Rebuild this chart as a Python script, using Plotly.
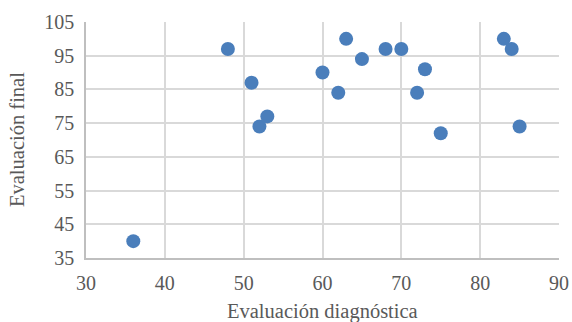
import plotly.graph_objects as go

diagnostica = [36, 48, 51, 52, 53, 60, 62, 63, 65, 68, 70, 72, 73, 75, 83, 84, 85]
final = [40, 97, 87, 74, 77, 90, 84, 100, 94, 97, 97, 84, 91, 72, 100, 97, 74]

x_ticks = [30, 40, 50, 60, 70, 80, 90]
y_ticks = [35, 45, 55, 65, 75, 85, 95, 105]
x_title = "Evaluación diagnóstica"
y_title = "Evaluación final"

font_family = "Times New Roman, Liberation Serif, serif"
tick_color = "#595959"
grid_color = "#d9d9d9"
fsize = 20

fig = go.Figure(go.Scatter(
    x=diagnostica, y=final, mode="markers",
    marker=dict(color="#4a7ebb", size=14, line=dict(width=0)),
))

fig.update_layout(
    width=572, height=322,
    margin=dict(l=86, r=13, t=22, b=64),
    paper_bgcolor="white", plot_bgcolor="white",
    showlegend=False,
    font=dict(family=font_family, size=fsize, color=tick_color),
    annotations=[
        dict(text=x_title, xref="paper", yref="paper", x=0.5, y=0,
             xanchor="center", yanchor="middle", yshift=-53, showarrow=False,
             font=dict(family=font_family, size=20.5, color=tick_color)),
        dict(text=y_title, xref="paper", yref="paper", x=0, y=0.5,
             xanchor="center", yanchor="middle", xshift=-69, textangle=-90,
             showarrow=False,
             font=dict(family=font_family, size=20.5, color=tick_color)),
    ],
)
fig.update_xaxes(
    range=[30, 90], tickvals=x_ticks, ticktext=[str(v) for v in x_ticks],
    showgrid=True, gridcolor=grid_color, gridwidth=1.5,
    showline=True, linecolor="#bfbfbf", linewidth=1.5,
    zeroline=False, ticks="", ticklabelstandoff=6, automargin=False,
    tickfont=dict(family=font_family, size=fsize, color=tick_color),
)
fig.update_yaxes(
    range=[35, 105], tickvals=y_ticks, ticktext=[str(v) for v in y_ticks],
    showgrid=True, gridcolor=grid_color, gridwidth=1.5,
    showline=True, linecolor="#bfbfbf", linewidth=1.5,
    zeroline=False, ticks="", ticklabelstandoff=6, automargin=False,
    tickfont=dict(family=font_family, size=fsize, color=tick_color),
)

fig.write_html("out.html")
